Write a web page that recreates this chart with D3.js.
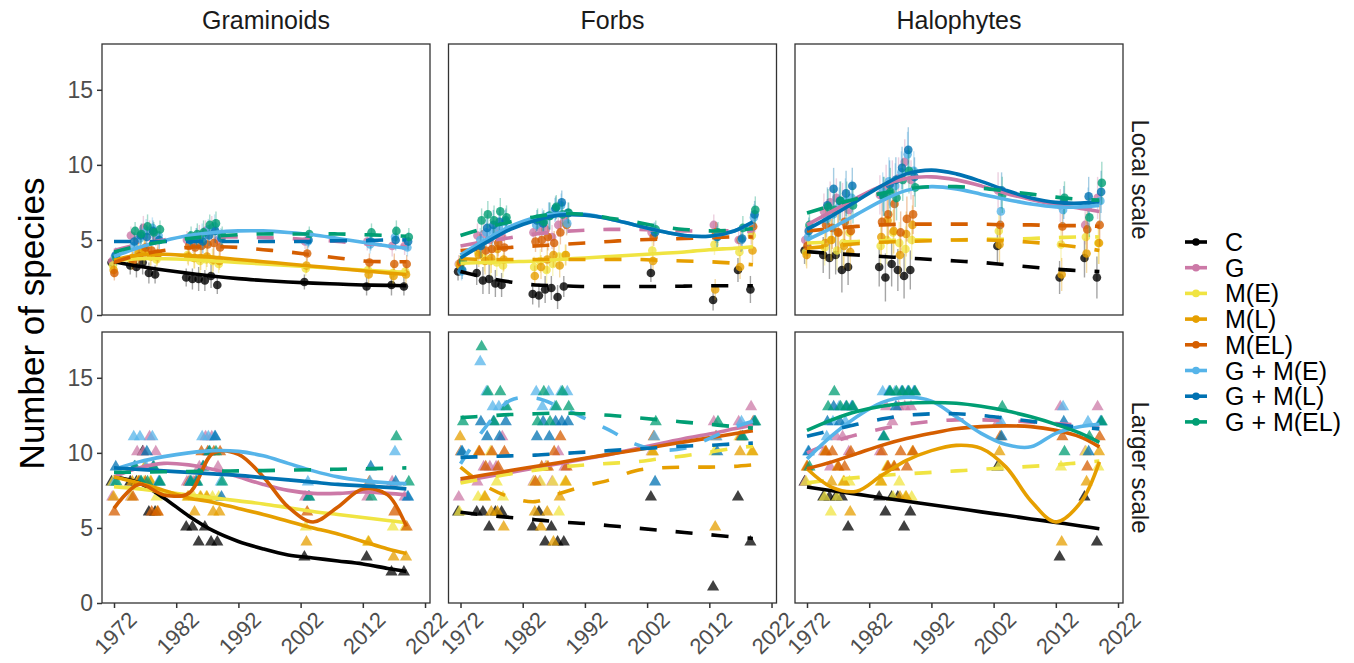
<!DOCTYPE html>
<html>
<head>
<script src="https://cdnjs.cloudflare.com/ajax/libs/d3/7.8.5/d3.min.js"></script>
<style>
  body { margin: 0; background: #fff; }
  text { font-family: "Liberation Sans", Arial, sans-serif; }
</style>
</head>
<body>
<div id="chart"></div>
<script>
var groups = ["C", "G", "M(E)", "M(L)", "M(EL)", "G + M(E)", "G + M(L)", "G + M(EL)"];
var colours = ["#000000", "#CC79A7", "#F0E442", "#E69F00", "#D55E00", "#56B4E9", "#0072B2", "#009E73"];
var plantTypes = ["Graminoids", "Forbs", "Halophytes"];
var scaleNames = ["Local scale", "Larger scale"];
var years = [1972, 1975, 1976, 1977, 1978, 1979, 1984, 1985, 1986, 1987, 1988, 1989, 2003, 2013, 2017, 2019];
var fitYears = [1972, 1976, 1980, 1984, 1988, 1992, 1996, 2000, 2004, 2008, 2012, 2016, 2019];
var yTicks = [0, 5, 10, 15];
var xTicks = [1972, 1982, 1992, 2002, 2012, 2022];

// ---- local scale: mean number of species per plot
var gramLocal = [
  [3.5, 3.3, 3.2, 3.5, 2.8, 2.7, 2.5, 2.4, 2.4, 2.3, 2.6, 2.0, 2.2, 1.9, 2.0, 1.9],
  [3.6, 5.3, 5.0, 5.8, 5.6, 5.2, 5.0, 4.8, 5.2, 5.6, 5.8, 5.0, 4.9, 4.9, 4.6, 4.6],
  [3.3, 3.6, 4.0, 4.2, 3.9, 3.7, 4.0, 3.8, 3.6, 3.7, 3.6, 3.4, 3.1, 3.0, 2.8, 2.9],
  [3.0, 3.8, 4.2, 4.4, 4.0, 3.9, 3.9, 3.8, 3.8, 3.9, 3.7, 3.6, 3.3, 2.7, 2.6, 2.7],
  [2.8, 3.6, 3.9, 4.5, 4.3, 4.1, 4.6, 4.5, 4.6, 4.7, 4.8, 4.5, 4.1, 3.5, 3.4, 3.4],
  [3.9, 4.6, 5.1, 5.6, 5.8, 5.3, 5.0, 5.1, 5.3, 5.7, 5.9, 5.2, 4.9, 4.7, 5.2, 4.5],
  [4.0, 4.9, 5.3, 5.2, 5.6, 5.0, 5.0, 5.1, 4.9, 5.3, 5.6, 5.1, 5.0, 4.9, 5.0, 4.9],
  [3.8, 5.6, 5.4, 5.9, 5.5, 5.7, 5.3, 5.4, 5.5, 6.0, 6.1, 5.3, 5.4, 5.5, 5.6, 5.2]
];
var gramLocalSe = [0.5, 0.6, 0.7, 0.8, 0.7, 0.6, 0.6, 0.7, 0.8, 0.7, 0.8, 0.6, 0.5, 0.6, 0.7, 0.6];
var gramLocalFit = [
  [3.55, 3.25, 3.0, 2.78, 2.58, 2.42, 2.3, 2.2, 2.12, 2.06, 2.0, 1.97, 1.95],
  [4.3, 4.7, 5.0, 5.15, 5.2, 5.2, 5.15, 5.1, 5.0, 4.9, 4.75, 4.65, 4.55],
  [3.6, 3.75, 3.75, 3.7, 3.6, 3.5, 3.4, 3.3, 3.2, 3.1, 3.0, 2.9, 2.85],
  [3.65, 4.0, 4.05, 3.95, 3.85, 3.7, 3.55, 3.4, 3.25, 3.1, 2.95, 2.8, 2.7],
  [3.5, 4.0, 4.3, 4.5, 4.55, 4.5, 4.35, 4.2, 4.0, 3.8, 3.6, 3.55, 3.55],
  [3.9, 4.5, 4.95, 5.3, 5.5, 5.6, 5.6, 5.5, 5.35, 5.1, 4.85, 4.6, 4.45],
  [4.9, 4.9, 4.9, 4.9, 4.9, 4.9, 4.9, 4.9, 4.9, 4.95, 4.95, 5.0, 5.0],
  [4.2, 4.6, 4.9, 5.1, 5.25, 5.35, 5.4, 5.4, 5.4, 5.4, 5.35, 5.3, 5.25]
];
var gramLocalDashed = [false, true, false, false, true, false, true, true];

var forbLocal = [
  [2.9, 2.8, 2.3, 2.4, 2.1, 2.0, 1.4, 1.3, 1.7, 1.8, 1.2, 1.9, 2.8, 1.0, 3.0, 1.7],
  [3.4, 5.3, 5.4, 5.0, 5.6, 5.2, 5.5, 5.8, 5.7, 5.2, 6.0, 6.3, 5.5, 6.0, 5.0, 5.6],
  [3.4, 4.2, 3.8, 3.6, 3.5, 3.3, 3.2, 3.6, 3.0, 3.4, 3.9, 4.0, 4.3, 4.7, 4.2, 5.3],
  [3.3, 4.0, 3.6, 3.8, 4.4, 3.7, 2.6, 3.2, 3.7, 4.0, 3.3, 4.0, 3.6, 1.7, 3.2, 4.3],
  [3.5, 4.6, 4.3, 4.4, 4.8, 4.5, 4.9, 5.0, 5.2, 4.8, 5.5, 6.0, 5.2, 5.5, 5.0, 5.9],
  [2.9, 5.0, 5.5, 5.6, 5.9, 6.2, 6.0, 6.3, 6.6, 7.0, 7.3, 6.1, 5.6, 5.2, 5.0, 6.5],
  [3.0, 4.6, 5.8, 6.0, 6.2, 6.3, 6.3, 6.1, 6.6, 7.1, 7.5, 6.8, 5.5, 5.2, 5.1, 6.7],
  [3.6, 6.3, 6.7, 6.3, 6.9, 6.5, 6.4, 6.2, 6.6, 7.2, 6.7, 6.8, 5.7, 5.5, 5.8, 7.0]
];
var forbLocalSe = [0.6, 0.8, 0.9, 1.0, 0.9, 0.8, 0.7, 0.8, 0.9, 0.8, 0.8, 0.7, 0.6, 0.7, 0.8, 0.9];
var forbLocalFit = [
  [2.9, 2.5, 2.2, 2.0, 1.95, 1.9, 1.9, 1.9, 1.9, 1.92, 1.95, 1.95, 1.95],
  [4.6, 4.9, 5.15, 5.4, 5.55, 5.65, 5.7, 5.7, 5.65, 5.6, 5.6, 5.6, 5.6],
  [3.45, 3.5, 3.55, 3.6, 3.7, 3.8, 3.9, 4.0, 4.1, 4.2, 4.35, 4.45, 4.55],
  [3.75, 3.7, 3.7, 3.7, 3.7, 3.7, 3.7, 3.7, 3.65, 3.6, 3.55, 3.45, 3.35],
  [4.3, 4.4, 4.5, 4.6, 4.7, 4.8, 4.9, 5.0, 5.05, 5.1, 5.15, 5.2, 5.2],
  [4.0, 5.0, 5.9, 6.5, 6.75, 6.7, 6.4, 6.0, 5.6, 5.3, 5.25, 5.6, 6.15],
  [3.8, 4.8, 5.7, 6.3, 6.65, 6.65, 6.4, 6.0, 5.6, 5.3, 5.25, 5.6, 6.2],
  [5.3, 5.8, 6.2, 6.55, 6.75, 6.7, 6.45, 6.2, 5.9, 5.7, 5.6, 5.65, 5.75]
];
var forbLocalDashed = [true, true, false, true, true, false, false, true];

var haloLocal = [
  [4.3, 4.0, 3.8, 4.0, 3.0, 3.2, 3.2, 2.5, 3.4, 3.0, 2.6, 3.0, 4.6, 2.5, 3.8, 2.5],
  [5.0, 6.9, 7.5, 7.8, 7.3, 7.0, 8.0, 8.4, 8.8, 9.1, 10.2, 9.0, 8.3, 7.3, 6.0, 7.8],
  [4.2, 4.5, 5.0, 4.3, 4.8, 5.5, 4.6, 5.0, 5.5, 4.8, 4.4, 5.0, 5.6, 4.7, 5.2, 4.8],
  [4.0, 4.8, 5.0, 5.5, 4.6, 4.2, 5.2, 6.3, 5.6, 4.0, 5.4, 6.0, 4.7, 2.7, 4.1, 4.8],
  [4.6, 6.0, 5.8, 5.5, 6.2, 5.6, 6.2, 6.7, 7.4, 5.5, 6.4, 6.7, 6.0, 5.9, 5.7, 6.0],
  [5.2, 6.4, 6.7, 7.2, 7.6, 7.8, 8.2, 8.9, 8.6, 9.5, 10.7, 9.6, 6.9, 7.0, 7.2, 7.6],
  [5.6, 7.3, 8.4, 7.6, 8.1, 8.6, 7.9, 8.7, 9.0, 9.8, 11.0, 9.2, 8.3, 7.5, 7.9, 8.2],
  [6.0, 7.2, 7.0, 7.6, 7.4, 7.3, 7.9, 8.2, 7.8, 9.0, 9.6, 8.5, 8.0, 7.8, 6.5, 8.8]
];
var haloLocalSe = [0.9, 1.2, 1.4, 1.3, 1.5, 1.2, 1.3, 1.6, 1.5, 1.4, 1.5, 1.3, 1.2, 1.1, 1.3, 1.4];
var haloLocalFit = [
  [4.22, 4.1, 4.0, 3.9, 3.8, 3.7, 3.6, 3.5, 3.35, 3.2, 3.05, 2.95, 2.89],
  [6.0, 6.9, 7.8, 8.6, 9.1, 9.2, 9.0, 8.6, 8.1, 7.7, 7.35, 7.1, 6.9],
  [4.8, 4.85, 4.9, 4.95, 5.0, 5.0, 5.0, 5.05, 5.05, 5.1, 5.15, 5.2, 5.2],
  [4.45, 4.6, 4.75, 4.85, 4.9, 4.95, 5.0, 5.0, 4.95, 4.85, 4.7, 4.5, 4.3],
  [5.6, 5.75, 5.9, 6.0, 6.05, 6.05, 6.05, 6.05, 6.0, 6.0, 5.95, 5.95, 5.9],
  [5.0, 5.8, 6.7, 7.6, 8.3, 8.55, 8.4, 8.05, 7.7, 7.4, 7.2, 7.2, 7.3],
  [5.7, 6.6, 7.6, 8.6, 9.4, 9.65, 9.4, 8.9, 8.3, 7.8, 7.5, 7.45, 7.55],
  [6.8, 7.3, 7.75, 8.1, 8.4, 8.55, 8.55, 8.45, 8.25, 8.05, 7.85, 7.7, 7.65]
];
var haloLocalDashed = [true, false, true, true, true, false, false, true];

// ---- larger scale: species counts
var gramLarger = [
  [8, 8, 8, 10, 6, 6, 5, 5, 4, 5, 4, 4, 3, 3, 2, 2],
  [7, 7, 10, 10, 11, 10, 8, 8, 9, 11, 11, 9, 7, 7, 8, 7],
  [8, 7, 8, 8, 8, 7, 7, 7, 7, 7, 7, 7, 5, 4, 5, 5],
  [7, 8, 8, 9, 8, 6, 7, 6, 7, 7, 6, 6, 4, 4, 3, 3],
  [6, 7, 8, 8, 6, 6, 8, 8, 10, 10, 10, 10, 6, 8, 6, 5],
  [8, 11, 11, 9, 11, 8, 8, 8, 11, 11, 11, 8, 8, 8, 10, 7],
  [9, 9, 8, 10, 9, 8, 8, 8, 9, 10, 11, 7, 7, 9, 8, 7],
  [8, 9, 8, 8, 9, 8, 8, 8, 9, 10, 10, 8, 7, 7, 11, 8]
];
var gramLargerFit = [
  [8.4, 8.0, 7.0, 5.8, 4.8, 4.1, 3.6, 3.2, 3.0, 2.8, 2.6, 2.3, 2.1],
  [8.4, 9.0, 9.3, 9.2, 8.9, 8.4, 7.9, 7.5, 7.3, 7.3, 7.4, 7.3, 7.2],
  [7.75, 7.6, 7.4, 7.2, 7.0, 6.8, 6.6, 6.35, 6.1, 5.9, 5.7, 5.5, 5.35],
  [8.4, 8.0, 7.5, 7.0, 6.7, 6.3, 5.9, 5.45, 5.0, 4.6, 4.1, 3.6, 3.3],
  [6.3, 7.9, 7.2, 7.3, 10.0, 9.9, 8.4, 6.4, 5.4, 6.4, 7.6, 7.2, 5.1],
  [8.9, 9.4, 9.75, 10.0, 10.15, 10.1, 9.8, 9.3, 8.8, 8.4, 8.15, 8.0, 7.95],
  [9.0, 8.9, 8.8, 8.7, 8.6, 8.5, 8.35, 8.2, 8.05, 7.9, 7.8, 7.7, 7.6],
  [8.7, 8.72, 8.74, 8.76, 8.78, 8.8, 8.82, 8.85, 8.88, 8.91, 8.94, 8.97, 9.0]
];
var gramLargerDashed = [false, false, false, false, false, false, false, true];

var forbLarger = [
  [6, 6, 6, 5, 6, 6, 5, 6, 4, 5, 4, 4, 7, 1, 7, 4],
  [7, 8, 9, 9, 9, 11, 8, 8, 9, 8, 10, 9, 10, 12, 12, 13],
  [6, 7, 7, 10, 8, 7, 8, 8, 9, 8, 6, 8, 10, 10, 11, 10],
  [11, 10, 7, 6, 6, 5, 6, 5, 6, 4, 7, 8, 10, 5, 10, 10],
  [10, 10, 9, 10, 9, 10, 8, 9, 9, 10, 11, 9, 11, 11, 11, 12],
  [10, 16, 14, 13, 13, 13, 14, 13, 14, 13, 14, 14, 11, 11, 12, 12],
  [10, 12, 11, 12, 11, 12, 11, 12, 11, 12, 12, 12, 8, 10, 11, 12],
  [12, 17, 14, 12, 14, 13, 12, 14, 12, 13, 14, 13, 12, 12, 11, 12]
];
var forbLargerFit = [
  [6.05, 5.85, 5.7, 5.55, 5.4, 5.3, 5.15, 5.0, 4.85, 4.7, 4.55, 4.4, 4.3],
  [8.1, 8.4, 8.7, 9.0, 9.3, 9.6, 9.9, 10.25, 10.6, 10.95, 11.25, 11.6, 11.85],
  [8.0, 8.3, 8.6, 8.85, 9.05, 9.2, 9.3, 9.4, 9.6, 9.8, 10.05, 10.3, 10.45],
  [9.05, 7.8, 7.05, 6.75, 7.3, 7.8, 8.2, 8.8, 9.0, 9.05, 9.05, 9.1, 9.2],
  [8.27, 8.54, 8.82, 9.09, 9.36, 9.64, 9.91, 10.18, 10.46, 10.73, 11.0, 11.27, 11.48],
  [9.27, 11.7, 13.5, 13.65, 13.05, 12.3, 11.5, 10.6, 10.2, 10.3, 10.95, 11.7, 12.1],
  [9.7, 9.75, 9.8, 9.85, 9.95, 10.05, 10.15, 10.25, 10.35, 10.45, 10.5, 10.6, 10.65],
  [12.35, 12.45, 12.55, 12.6, 12.65, 12.6, 12.5, 12.35, 12.2, 12.05, 11.9, 11.75, 11.65]
];
var forbLargerDashed = [true, false, true, true, false, true, true, true];

var haloLarger = [
  [8, 7, 7, 7, 7, 5, 7, 6, 7, 7, 5, 6, 9, 3, 7, 4],
  [8, 10, 9, 11, 11, 10, 10, 13, 12, 13, 13, 13, 12, 13, 10, 13],
  [8, 7, 6, 7, 8, 8, 8, 9, 7, 8, 7, 7, 9, 9, 10, 9],
  [9, 10, 8, 9, 8, 6, 8, 9, 9, 7, 7, 10, 10, 4, 8, 10],
  [9, 10, 10, 9, 9, 10, 10, 9, 9, 10, 9, 10, 11, 11, 9, 11],
  [10, 11, 12, 13, 12, 13, 14, 14, 14, 14, 14, 14, 12, 13, 12, 12],
  [10, 12, 13, 12, 13, 13, 11, 14, 13, 14, 14, 14, 11, 12, 10, 12],
  [9, 13, 14, 13, 13, 13, 11, 14, 14, 14, 14, 14, 13, 10, 11, 12]
];
var haloLargerFit = [
  [7.72, 7.48, 7.25, 7.01, 6.78, 6.54, 6.31, 6.07, 5.84, 5.6, 5.37, 5.13, 4.95],
  [10.0, 10.7, 11.2, 11.6, 11.9, 12.1, 12.2, 12.2, 12.15, 12.05, 11.95, 11.85, 11.8],
  [8.0, 8.2, 8.35, 8.5, 8.6, 8.7, 8.8, 8.9, 9.0, 9.1, 9.2, 9.35, 9.45],
  [8.94, 7.7, 7.45, 8.5, 9.5, 10.15, 10.5, 10.3, 9.05, 6.8, 5.4, 6.7, 9.4],
  [8.94, 9.4, 9.95, 10.5, 10.95, 11.3, 11.6, 11.75, 11.8, 11.75, 11.5, 11.05, 10.4],
  [9.6, 11.15, 12.4, 13.35, 13.7, 13.45, 12.4, 11.3, 10.55, 10.4, 11.3, 11.75, 11.9],
  [11.1, 11.5, 11.9, 12.25, 12.5, 12.6, 12.6, 12.5, 12.3, 12.1, 11.9, 11.7, 11.6],
  [11.5, 12.2, 12.75, 13.1, 13.3, 13.35, 13.3, 13.1, 12.8, 12.4, 11.9, 11.3, 10.7]
];
var haloLargerDashed = [false, true, true, false, false, false, true, false];

var panels = [
  { col: 0, row: 0, pts: gramLocal, se: gramLocalSe, fit: gramLocalFit, dashed: gramLocalDashed },
  { col: 1, row: 0, pts: forbLocal, se: forbLocalSe, fit: forbLocalFit, dashed: forbLocalDashed },
  { col: 2, row: 0, pts: haloLocal, se: haloLocalSe, fit: haloLocalFit, dashed: haloLocalDashed },
  { col: 0, row: 1, pts: gramLarger, se: null, fit: gramLargerFit, dashed: gramLargerDashed },
  { col: 1, row: 1, pts: forbLarger, se: null, fit: forbLargerFit, dashed: forbLargerDashed },
  { col: 2, row: 1, pts: haloLarger, se: null, fit: haloLargerFit, dashed: haloLargerDashed }
];

var W = 1354, H = 663;
var panelLeft = [102, 448.5, 795], panelW = 328;
var panelTop = [44, 332], panelH = 271;
var fontFam = "Liberation Sans, Arial, sans-serif";

var svg = d3.select("#chart").append("svg")
  .attr("width", W).attr("height", H);

var y = d3.scaleLinear().domain([0, 18.05]).range([panelH, 0]);
var x = d3.scaleLinear().domain([1970.07, 2022.8]).range([0, panelW]);

var line = d3.line()
  .x(function(d) { return x(d[0]); })
  .y(function(d) { return y(d[1]); })
  .curve(d3.curveCatmullRom.alpha(0.5));

var triangle = d3.symbol().type(d3.symbolTriangle).size(64);

panels.forEach(function(p) {
  var g = svg.append("g")
    .attr("transform", "translate(" + panelLeft[p.col] + "," + panelTop[p.row] + ")");

  g.append("rect").attr("width", panelW).attr("height", panelH).attr("fill", "#fff");

  // error bars and points
  p.pts.forEach(function(vals, s) {
    var dodge = (s - 3.5) * 0.7;
    var pg = g.append("g");
    if (p.se) {
      pg.selectAll("line.err").data(vals).enter().append("line")
        .attr("x1", function(d, i) { return x(years[i]) + dodge; })
        .attr("x2", function(d, i) { return x(years[i]) + dodge; })
        .attr("y1", function(d, i) { return y(d - p.se[i]); })
        .attr("y2", function(d, i) { return y(d + p.se[i]); })
        .attr("stroke", colours[s]).attr("stroke-width", 1.4).attr("opacity", 0.35);
      pg.selectAll("circle").data(vals).enter().append("circle")
        .attr("cx", function(d, i) { return x(years[i]) + dodge; })
        .attr("cy", function(d) { return y(d); })
        .attr("r", 4.3)
        .attr("fill", colours[s]).attr("opacity", 0.8);
    } else {
      pg.selectAll("path").data(vals).enter().append("path")
        .attr("d", triangle)
        .attr("transform", function(d, i) { return "translate(" + (x(years[i]) + dodge) + "," + (y(d) - 1) + ")"; })
        .attr("fill", colours[s]).attr("opacity", 0.75);
    }
  });

  // fitted lines
  p.fit.forEach(function(vals, s) {
    var pts = vals.map(function(v, i) { return [fitYears[i], v]; });
    g.append("path")
      .attr("d", line(pts))
      .attr("fill", "none")
      .attr("stroke", colours[s])
      .attr("stroke-width", 3.6)
      .attr("stroke-dasharray", p.dashed[s] ? "17,19" : null);
  });

  g.append("rect").attr("width", panelW).attr("height", panelH)
    .attr("fill", "none").attr("stroke", "#333").attr("stroke-width", 1.3);

  // y axis on first column
  if (p.col === 0) {
    var ya = g.append("g").call(d3.axisLeft(y).tickValues(yTicks).tickSize(5).tickPadding(4));
    ya.select(".domain").remove();
    ya.selectAll("line").attr("stroke", "#333").attr("stroke-width", 1.5);
    ya.selectAll("text").attr("font-size", 23).attr("fill", "#4d4d4d")
      .style("font-family", fontFam);
  }
  // x axis on bottom row
  if (p.row === 1) {
    var xa = g.append("g").attr("transform", "translate(0," + panelH + ")")
      .call(d3.axisBottom(x).tickValues(xTicks).tickSize(5).tickFormat(d3.format("d")));
    xa.select(".domain").remove();
    xa.selectAll("line").attr("stroke", "#333").attr("stroke-width", 1.5);
    xa.selectAll("text")
      .attr("font-size", 22).attr("fill", "#4d4d4d")
      .style("font-family", fontFam)
      .attr("text-anchor", "middle")
      .attr("dy", null).attr("y", null)
      .attr("dominant-baseline", "central")
      .attr("transform", "translate(1,30) rotate(-45)");
  }
});

// strip labels
plantTypes.forEach(function(t, i) {
  svg.append("text")
    .attr("x", panelLeft[i] + panelW / 2).attr("y", 29)
    .attr("text-anchor", "middle").attr("font-size", 25).attr("fill", "#1a1a1a")
    .text(t);
});
scaleNames.forEach(function(t, i) {
  var cy = panelTop[i] + panelH / 2;
  svg.append("text")
    .attr("transform", "translate(1132," + cy + ") rotate(90)")
    .attr("text-anchor", "middle").attr("font-size", 24).attr("fill", "#1a1a1a")
    .text(t);
});

// y axis title
svg.append("text")
  .attr("transform", "translate(44," + (panelTop[0] + (panelTop[1] + panelH - panelTop[0]) / 2) + ") rotate(-90)")
  .attr("text-anchor", "middle").attr("font-size", 35).attr("fill", "#000")
  .text("Number of species");

// legend
var legend = svg.append("g").attr("transform", "translate(1185,242)");
groups.forEach(function(gname, i) {
  var row = legend.append("g").attr("transform", "translate(0," + (i * 25.7) + ")");
  row.append("line").attr("x1", 0).attr("x2", 22).attr("y1", 0).attr("y2", 0)
    .attr("stroke", colours[i]).attr("stroke-width", 3.6);
  row.append("circle").attr("cx", 11).attr("cy", 0).attr("r", 3.8).attr("fill", colours[i]);
  row.append("text").attr("x", 40).attr("y", 0).attr("dy", "0.36em")
    .attr("font-size", 25).attr("fill", "#000").text(gname);
});
</script>
</body>
</html>
